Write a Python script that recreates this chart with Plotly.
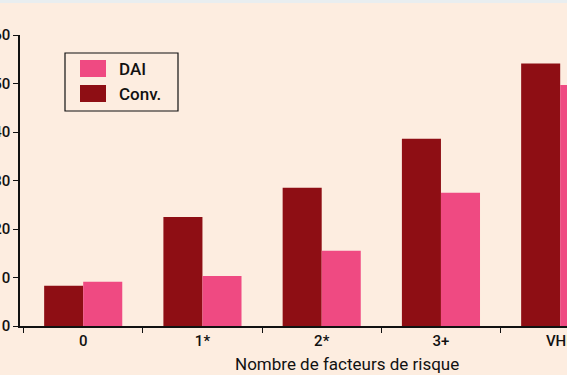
import plotly.graph_objects as go

categories = ["0", "1*", "2*", "3+", "VHF"]
conv_values = [8.3, 22.5, 28.5, 38.6, 54.1]
dai_values = [9.1, 10.3, 15.5, 27.5, 49.7]
y_ticks = [0, 10, 20, 30, 40, 50, 60]

CONV = "#8E0E14"
DAI = "#EF4A82"
BG = "#FDEDE0"

W, H = 567, 375
L, R, T, B = 20, 0, 35, 49
pw, ph = W - L - R, H - T - B

def px(x):
    return (x - L) / pw

def py(y):
    return (H - B - y) / ph

fig = go.Figure()
fig.add_trace(go.Bar(x=categories, y=conv_values, name="Conv.", marker_color=CONV,
                     marker_line_width=0, showlegend=False))
fig.add_trace(go.Bar(x=categories, y=dai_values, name="DAI", marker_color=DAI,
                     marker_line_width=0, showlegend=False))

font = "Roboto, Liberation Sans, Arial"

fig.update_layout(
    width=W, height=H,
    margin=dict(l=L, r=R, t=T, b=B, pad=0, autoexpand=False),
    paper_bgcolor=BG, plot_bgcolor=BG,
    barmode="group", bargap=0.345, bargroupgap=0,
    font=dict(family=font, size=15, color="#111"),
    xaxis=dict(range=[-0.53, 4.057], showline=True, linecolor="#111", linewidth=1.5,
               ticks="outside", ticklen=5, tickwidth=1.2, tickcolor="#111",
               tickson="boundaries", showgrid=False, zeroline=False, automargin=False,
               tickfont=dict(size=15, weight=500)),
    yaxis=dict(range=[0, 60], tickvals=y_ticks, showline=True, linecolor="#111",
               linewidth=1.5, ticks="outside", ticklen=5, tickwidth=1.2,
               tickcolor="#111", showgrid=False, zeroline=False, automargin=False,
               tickfont=dict(size=15, weight=500)),
)

# x axis title
fig.add_annotation(text="Nombre de facteurs de risque", xref="paper", yref="paper",
                   x=px(347), y=py(364), showarrow=False, font=dict(size=17),
                   xanchor="center", yanchor="middle")

# custom legend
fig.add_shape(type="rect", xref="paper", yref="paper", x0=px(65), x1=px(178),
              y0=py(111), y1=py(53), line=dict(color="#111", width=1.2), fillcolor=BG)
fig.add_shape(type="rect", xref="paper", yref="paper", x0=px(80), x1=px(106),
              y0=py(77), y1=py(60), line=dict(width=0), fillcolor=DAI)
fig.add_shape(type="rect", xref="paper", yref="paper", x0=px(80), x1=px(106),
              y0=py(102), y1=py(85), line=dict(width=0), fillcolor=CONV)
fig.add_annotation(text="DAI", xref="paper", yref="paper", x=px(117), y=py(69),
                   showarrow=False, xanchor="left", yanchor="middle",
                   font=dict(size=17, weight=500))
fig.add_annotation(text="Conv.", xref="paper", yref="paper", x=px(117), y=py(94),
                   showarrow=False, xanchor="left", yanchor="middle",
                   font=dict(size=17, weight=500))

# top strip
fig.add_shape(type="rect", xref="paper", yref="paper", x0=px(0), x1=px(W),
              y0=py(3), y1=py(0), line=dict(width=0), fillcolor="#E9EEF0")

fig.write_html("out.html", config={"displayModeBar": False},
               post_script="document.body.style.margin='0';document.body.style.overflow='hidden';")
